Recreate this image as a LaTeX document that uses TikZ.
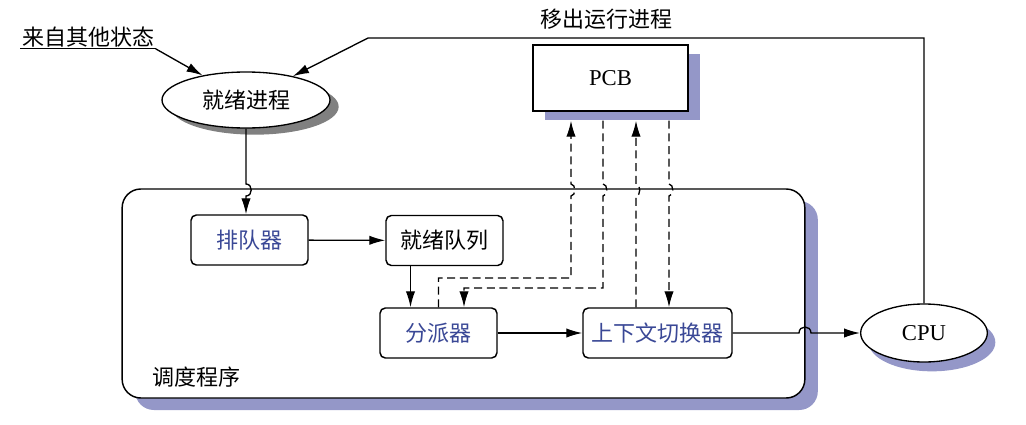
\documentclass[tikz,border=0pt]{standalone}
\usepackage{fontspec}
\setmainfont{Liberation Serif}
\newfontfamily\cjk{Noto Sans CJK SC}
\usetikzlibrary{shapes.geometric,shadows,arrows.meta,calc}

\definecolor{shadowblue}{RGB}{148,151,200}
\definecolor{shadowgray}{RGB}{128,128,128}
\definecolor{labelblue}{RGB}{58,72,150}

\tikzset{
  zh/.style={font=\cjk\fontsize{16.5}{19}\selectfont},
  box/.style={zh, draw, line width=1.1pt, rounded corners=4pt, fill=white,
    minimum width=87.75pt, minimum height=37.5pt, inner sep=0pt},
  bluetext/.style={text=labelblue},
  frame/.style={draw, line width=1.1pt, rounded corners=14pt, fill=white,
    minimum width=512pt, minimum height=156.75pt,
    general shadow={fill=shadowblue, shadow xshift=9.75pt, shadow yshift=-9pt}},
  pcbbox/.style={draw, line width=1.1pt, fill=white, font=\fontsize{17}{20}\selectfont,
    minimum width=116pt, minimum height=49.5pt,
    general shadow={fill=shadowblue, shadow xshift=9pt, shadow yshift=-6.5pt}},
  readyell/.style={zh, ellipse, draw, line width=1pt, fill=white, inner sep=0pt,
    minimum width=126pt, minimum height=42pt,
    general shadow={fill=shadowgray, shadow xshift=6.5pt, shadow yshift=-5pt}},
  cpuell/.style={ellipse, draw, line width=1pt, fill=white, inner sep=0pt,
    font=\fontsize{17}{20}\selectfont, minimum width=95pt, minimum height=43.5pt,
    general shadow={fill=shadowblue, shadow xshift=6pt, shadow yshift=-7pt}},
  arr/.style={line width=1pt, -{Latex[length=12pt,width=7pt]}},
  dsh/.style={dash pattern=on 6pt off 3.5pt}
}

\begin{document}
\begin{tikzpicture}[x=0.75pt,y=-0.75pt]
  \useasboundingbox (0,0) rectangle (1026,425);

  \node[frame] (sched) at (463.5,293.5) {};
  \node[zh] (schedlbl) at (196,377) {调度程序};

  \node[box,bluetext] (enq) at (249.5,240) {排队器};
  \node[box] (rq) at (444.5,240.5) {就绪队列};
  \node[box,bluetext] (disp) at (438.5,333) {分派器};
  \node[box,bluetext,minimum width=111.75pt] (ctx) at (657.5,333) {上下文切换器};

  \node[pcbbox] (pcb) at (610.5,78) {PCB};
  \node[readyell] (ready) at (246,100) {就绪进程};
  \node[cpuell] (cpu) at (924,333) {CPU};

  \node[zh, inner sep=1pt] (other) at (88,37) {来自其他状态};
  \node[zh] (out) at (606,19) {移出运行进程};

  % incoming to the ready process
  \draw[line width=1pt] (other.south west) -- (other.south east);
  \draw[arr] (other.south east) -- (ready);
  \draw[arr] (cpu.north) -- (924,38) -- (368,38) -- (ready);

  % solid flow
  \draw[arr] (ready.south) -- (246,184) .. controls (253,184) and (253,196) .. (246,196)
    -- (enq.north -| ready.south);
  \draw[arr] (enq) -- (rq);
  \draw[arr] ($(rq.south)+(-34,0)$) -- ($(disp.north)+(-28,0)$);
  \draw[arr] (disp) -- (ctx);
  \draw[arr] (ctx.east) -- (799,333) .. controls (799,325) and (811,325) .. (811,333)
    -- (cpu.west);

  % PCB traffic
  \draw[arr,dsh] (disp.north) -- (438.5,278) -- (571,278) -- (571,196)
    .. controls (576,196) and (576,184) .. (571,184) -- ($(pcb.south)+(-39.5,9)$);
  \draw[arr,dsh] ($(pcb.south)+(-7.5,9)$) -- (603,184)
    .. controls (608,184) and (608,196) .. (603,196) -- (603,288) -- (464,288)
    -- ($(disp.north)+(25.5,0)$);
  \draw[arr,dsh] ($(ctx.north)+(-21.5,0)$) -- (636,196)
    .. controls (641,196) and (641,184) .. (636,184) -- ($(pcb.south)+(25.5,9)$);
  \draw[arr,dsh] ($(pcb.south)+(58.5,9)$) -- (669,184)
    .. controls (674,184) and (674,196) .. (669,196) -- ($(ctx.north)+(11.5,0)$);
\end{tikzpicture}
\end{document}
